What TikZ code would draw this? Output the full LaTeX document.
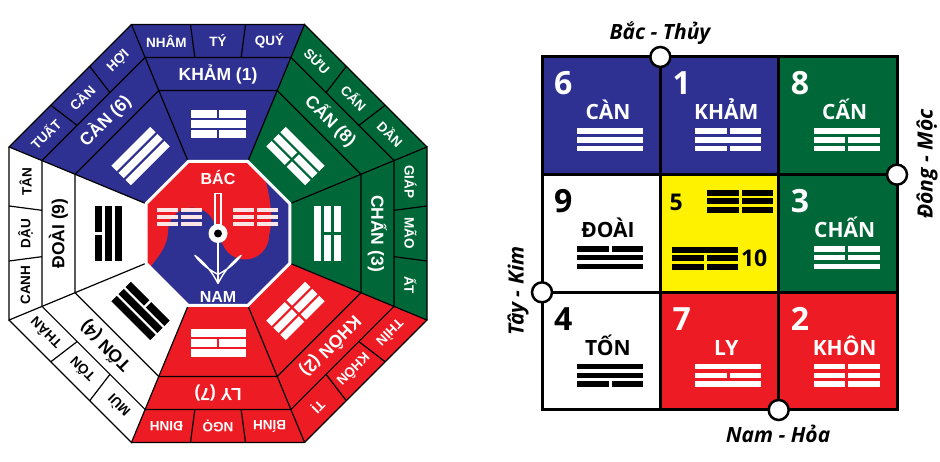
\documentclass[tikz,border=0pt]{standalone}
\usepackage{fontspec}
\setmainfont{Open Sans}
\newfontfamily\octf{Liberation Sans}
\definecolor{fsblue}{RGB}{46,49,146}
\definecolor{fsgreen}{RGB}{0,104,56}
\definecolor{fsred}{RGB}{237,28,36}
\definecolor{fsyellow}{RGB}{255,242,0}
\newcommand\tgbar[5]{%
  \ifnum#4=1\relax
    \fill (-#2,#1-#3) -- (#2,#1-#3) -- (#2,#1+#3) -- (-#2,#1+#3) -- cycle;
  \else
    \fill (-#2,#1-#3) -- (-#5,#1-#3) -- (-#5,#1+#3) -- (-#2,#1+#3) -- cycle;
    \fill (#5,#1-#3) -- (#2,#1-#3) -- (#2,#1+#3) -- (#5,#1+#3) -- cycle;
  \fi}
\newcommand\trigram[8]{%
  \begin{scope}[#1]
    \tgbar{#4}{#2}{#3}{#6}{#5}
    \tgbar{0}{#2}{#3}{#7}{#5}
    \tgbar{-#4}{#2}{#3}{#8}{#5}
  \end{scope}}
\tikzset{
  octname/.style={inner sep=0pt, font=\octf\bfseries\fontsize{17.5bp}{20bp}\selectfont},
  octsub/.style={inner sep=0pt, font=\octf\bfseries\fontsize{13.5bp}{15bp}\selectfont},
  ctrlab/.style={inner sep=0pt, text=white, font=\octf\bfseries\fontsize{16bp}{18bp}\selectfont},
  gnum/.style={inner sep=0pt, font=\bfseries\fontsize{32bp}{34bp}\selectfont},
  gname/.style={inner sep=0pt, font=\bfseries\fontsize{21bp}{23bp}\selectfont},
  gsmall/.style={inner sep=0pt, font=\bfseries\fontsize{23bp}{25bp}\selectfont},
  dirlab/.style={inner sep=0pt, font=\bfseries\itshape\fontsize{21bp}{23bp}\selectfont},
  dircirc/.style={circle, draw=black, fill=white, line width=2.5bp, minimum size=20bp, inner sep=0pt},
  octline/.style={black, line width=1.2bp},
  gridline/.style={black, line width=3bp}
}
\begin{document}
\begin{tikzpicture}[x=1bp,y=1bp]
\useasboundingbox (0,0) rectangle (940,462);
\fill[white] (0,0) rectangle (940,462);

% ---------- octagon sectors ----------
\foreach \k/\col/\tc/\nm/\la/\lb/\lc/\ta/\tb/\tbb in {
 0/fsblue/white/KHẢM (1)/NHÂM/TÝ/QUÝ/0/1/0,
 1/fsgreen/white/CẤN (8)/SỬU/CẤN/DẦN/1/0/0,
 2/fsgreen/white/CHẤN (3)/GIÁP/MÃO/ẤT/0/0/1,
 3/fsred/white/KHÔN (2)/THÌN/KHÔN/TỊ/0/0/0,
 4/fsred/white/LY (7)/BÍNH/NGỌ/ĐINH/1/0/1,
 5/white/black/TỐN (4)/MÙI/TỐN/THÂN/1/1/0,
 6/white/black/ĐOÀI (9)/CANH/DẬU/TÂN/0/1/1,
 7/fsblue/white/CÀN (6)/TUẤT/CÀN/HỢI/1/1/1}
{
 \begin{scope}[shift={(218,228.5)}, rotate=-45*\k]
  \fill[\col] (-29.82,72) -- (29.82,72) -- (86.57,209) -- (-86.57,209) -- cycle;
  \trigram{shift={(0,109.5)},color=\tc}{27.5}{3.75}{10}{1.25}{\ta}{\tb}{\tbb}
  \node[octname, text=\tc, rotate=-45*\k] (nm\k) at (0,159.5) {\nm};
  \node[octsub, text=\tc, rotate=-45*\k] (sa\k) at (-51.6,192.5) {\la};
  \node[octsub, text=\tc, rotate=-45*\k] (sb\k) at (0,192.5) {\lb};
  \node[octsub, text=\tc, rotate=-45*\k] (sc\k) at (51.6,192.5) {\lc};
 \end{scope}
}
\foreach \k in {0,...,7}{
 \begin{scope}[shift={(218,228.5)}, rotate=-45*\k]
  \draw[octline, line join=miter] (-29.82,72) -- (-86.57,209) -- (86.57,209);
  \draw[octline] (-59.23,143) -- (59.23,143) (-72.90,176) -- (72.90,176)
     (-23.17,176) -- (-27.52,209) (23.17,176) -- (27.52,209);
 \end{scope}
}

% ---------- centre ----------
\begin{scope}[shift={(218,228.5)}]
 \fill[fsblue] (22.5:77.93) -- (67.5:77.93) -- (112.5:77.93) -- (157.5:77.93) -- (202.5:77.93) -- (247.5:77.93) -- (292.5:77.93) -- (337.5:77.93) -- cycle;
 \begin{scope}
  \clip (22.5:77.93) -- (67.5:77.93) -- (112.5:77.93) -- (157.5:77.93) -- (202.5:77.93) -- (247.5:77.93) -- (292.5:77.93) -- (337.5:77.93) -- cycle;
  \fill[fsred] (40,76) -- (40,90) -- (-90,90) -- (-90,-45) -- (-74,-40)
     .. controls (-60,-25) and (-50,-12) .. (-50,2)
     arc[start angle=180, end angle=0, radius=24]
     -- (3,-2)
     arc[start angle=180, end angle=360, radius=24]
     .. controls (56,16) and (52,45) .. (40,76) -- cycle;
 \end{scope}
 \draw[white, line width=3bp] (22.5:77.93) -- (67.5:77.93) -- (112.5:77.93) -- (157.5:77.93) -- (202.5:77.93) -- (247.5:77.93) -- (292.5:77.93) -- (337.5:77.93) -- cycle;
 \trigram{shift={(-38.5,16.5)},color=white!88!fsred}{22.5}{2.1}{6.7}{1.2}{0}{0}{0}
 \trigram{shift={(37.5,16.5)},color=white!88!fsred}{22.5}{2.1}{6.7}{1.2}{0}{0}{0}
 \draw[white, line width=1.3bp] (-3,9) rectangle (3,40);
 \draw[white, line width=1.5bp] (0,-9) -- (0,-50);
 \draw[white, line width=1.4bp, line join=round] (0,-50) .. controls (-5,-40) and (-13,-29) .. (-23,-22) .. controls (-16,-32) and (-7,-37) .. (0,-41);
 \draw[white, line width=1.4bp, line join=round] (0,-50) .. controls (5,-40) and (13,-29) .. (23,-22) .. controls (16,-32) and (7,-37) .. (0,-41);
 \fill[white] (0,0) circle (9.5);
 \fill[black] (0,0) circle (4);
 \node[ctrlab] (bac) at (0,56.5) {BÁC};
 \node[ctrlab] (nam) at (0,-63.5) {NAM};
\end{scope}

% ---------- grid ----------
\foreach \c/\r/\col/\tc/\num/\nm/\ta/\tb/\tbb in {
 0/0/fsblue/white/6/CÀN/1/1/1,
 1/0/fsblue/white/1/KHẢM/0/1/0,
 2/0/fsgreen/white/8/CẤN/1/0/0,
 0/1/white/black/9/ĐOÀI/0/1/1,
 2/1/fsgreen/white/3/CHẤN/0/0/1,
 0/2/white/black/4/TỐN/1/1/0,
 1/2/fsred/white/7/LY/1/0/1,
 2/2/fsred/white/2/KHÔN/0/0/0}
{
 \begin{scope}[shift={(542+118.33*\c,405-117.67*\r)}]
  \fill[\col] (0,0) rectangle (118.33,-117.67);
  \node[gnum, anchor=base west, text=\tc] (gn\c\r) at (12,-38) {\num};
  \node[gname, anchor=base, text=\tc] (gm\c\r) at (66,-63) {\nm};
  \trigram{shift={(68,-83)},color=\tc}{33}{2.8}{8.7}{1.5}{\ta}{\tb}{\tbb}
 \end{scope}
}
\begin{scope}[shift={(660.33,287.33)}]
 \fill[fsyellow] (0,0) rectangle (118.34,-117.66);
 \node[gsmall, anchor=base west] (g5) at (9,-35.5) {5};
 \trigram{shift={(79.7,-26.8)},color=black}{33}{3}{8.4}{1.5}{0}{0}{0}
 \trigram{shift={(44.7,-83.8)},color=black}{33}{3}{8.4}{1.5}{1}{0}{0}
 \node[gsmall, anchor=base west] (g10) at (80.5,-92.3) {10};
\end{scope}
\draw[gridline] (660.33,52) -- (660.33,405) (778.67,52) -- (778.67,405)
  (542,287.33) -- (897,287.33) (542,169.67) -- (897,169.67);
\draw[gridline] (542,52) rectangle (897,405);

\node[dircirc] (cn) at (660.33,405) {};
\node[dircirc] (ce) at (897,287.33) {};
\node[dircirc] (cw) at (542,169.67) {};
\node[dircirc] (cs) at (778.67,52) {};

\node[dirlab] (ln) at (660,429) {Bắc - Thủy};
\node[dirlab] (ls) at (778,28) {Nam - Hỏa};
\node[dirlab, rotate=90] (le) at (927,298) {Đông - Mộc};
\node[dirlab, rotate=90] (lw) at (518,171) {Tây - Kim};
\end{tikzpicture}
\end{document}
